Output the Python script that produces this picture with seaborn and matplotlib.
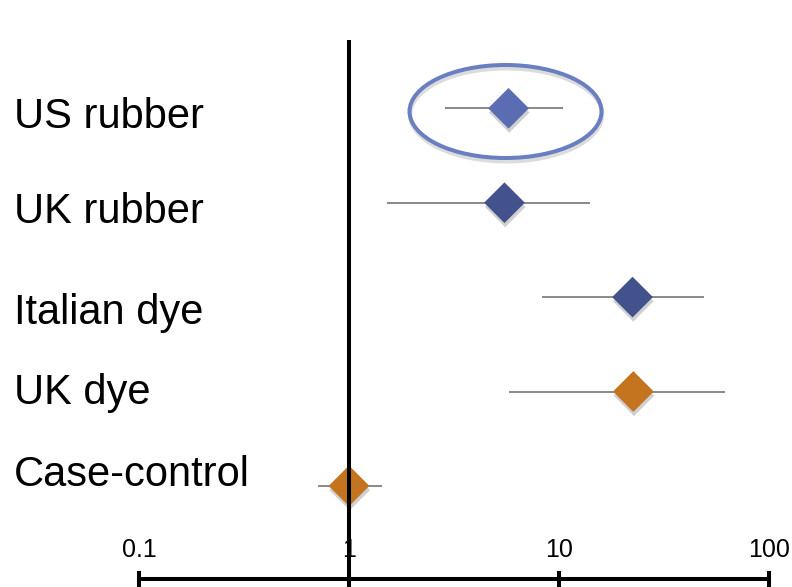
import numpy as np
import pandas as pd
import matplotlib
matplotlib.use("Agg")
import matplotlib.pyplot as plt
import matplotlib.patheffects as pe
from matplotlib.patches import Ellipse
from matplotlib.transforms import ScaledTranslation
from matplotlib.ticker import NullLocator
import seaborn as sns

# Study-level odds ratios with 95% confidence limits
studies = ["US rubber", "UK rubber", "Italian dye", "UK dye", "Case-control"]
odds_ratios = [5.75, 5.5, 22.4, 22.6, 1.0]
ci_low = [2.88, 1.51, 8.26, 5.81, 0.71]
ci_high = [10.4, 14.0, 48.8, 62.0, 1.43]
marker_colors = ["#5b6db2", "#43528c", "#43528c", "#c4731f", "#c4731f"]

tick_values = [0.1, 1, 10, 100]
tick_labels = ["0.1", "1", "10", "100"]

sns.set_style("white")
plt.rcParams["font.family"] = ["Liberation Sans", "DejaVu Sans"]

W, H, DPI = 792, 587, 100
fig = plt.figure(figsize=(W / DPI, H / DPI), dpi=DPI)

# axes frame (pixel layout)
AX_LEFT_PX, AX_RIGHT_PX, AX_BOTTOM_PX = 139, 769, 579
TOP_ROW_PX, ROW_PX = 108.3, 94.4

ax = fig.add_axes([AX_LEFT_PX / W, (H - AX_BOTTOM_PX) / H,
                   (AX_RIGHT_PX - AX_LEFT_PX) / W, AX_BOTTOM_PX / H])


def px_to_row(p):
    return (p - TOP_ROW_PX) / ROW_PX


ax.set_xscale("log")

df = pd.DataFrame({"study": studies, "or": odds_ratios,
                   "lo": ci_low, "hi": ci_high})

# confidence interval whiskers
ax.hlines(y=np.arange(len(studies)), xmin=df["lo"], xmax=df["hi"],
          color="#808080", lw=1.3, zorder=2)

sns.scatterplot(data=df, x="or", y="study", hue="study",
                palette=dict(zip(studies, marker_colors)),
                marker="D", s=430, linewidth=0, legend=False,
                ax=ax, zorder=3)
ax.collections[-1].set_path_effects([
    pe.SimplePatchShadow(offset=(0.5, -3), shadow_rgbFace="#666666", alpha=0.3),
    pe.Normal()])

ax.set_xlim(0.1, 100)
ax.set_ylim(px_to_row(AX_BOTTOM_PX), px_to_row(0))

# reference line at OR = 1
ax.plot([1, 1], [px_to_row(40), px_to_row(H)], color="black", lw=2.9,
        solid_capstyle="butt", clip_on=False, zorder=4)

# highlight ring around the first study
ring = Ellipse((-0.03, -0.032), 1.92, 0.93,
               transform=fig.dpi_scale_trans + ScaledTranslation(
                   odds_ratios[0], 0, ax.transData),
               fill=False, edgecolor="#6a7ec2", lw=2.9, zorder=5)
ring.set_path_effects([
    pe.SimpleLineShadow(offset=(0.5, -2.5), shadow_color="#777777", alpha=0.25),
    pe.Normal()])
ax.add_patch(ring)

# x axis styling
ax.set_xticks(tick_values)
ax.xaxis.set_minor_locator(NullLocator())
ax.tick_params(axis="x", which="major", bottom=True, direction="inout",
               length=11.5, width=2.9, color="black", labelbottom=False)
ax.set_yticks([])
ax.set_xlabel("")
ax.set_ylabel("")
for side in ["left", "top", "right"]:
    ax.spines[side].set_visible(False)
ax.spines["bottom"].set_linewidth(2.9)
ax.spines["bottom"].set_color("black")

for v, lab in zip(tick_values, tick_labels):
    ax.text(v, px_to_row(557), lab, ha="center", va="baseline",
            fontsize=18, color="black", zorder=1)

# study names
label_baseline_px = [127.7, 223, 324, 404, 486]
for name, by in zip(studies, label_baseline_px):
    fig.text(14 / W, (H - by) / H, name, ha="left", va="baseline",
             fontsize=30, color="black")

fig.savefig("out.png", dpi=DPI)
